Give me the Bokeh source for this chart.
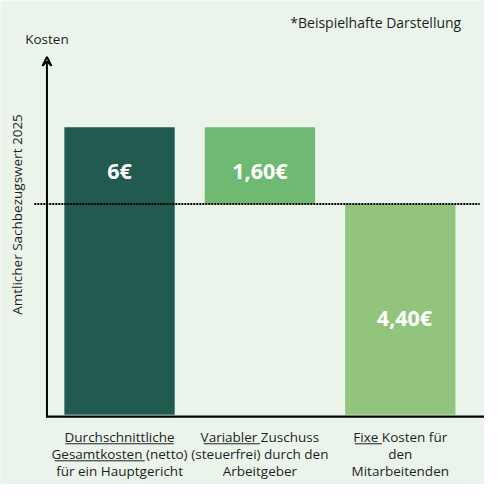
from math import pi

from bokeh.plotting import figure
from bokeh.models import Range1d, Arrow, VeeHead
from bokeh.core.properties import value
from bokeh.embed import file_html
from bokeh.resources import INLINE

# data
categories = ["Durchschnittliche Gesamtkosten", "Variabler Zuschuss", "Fixe Kosten"]
bar_bottom = [0, 4.40, 0]
bar_top = [6.00, 6.00, 4.40]
value_labels = ["6€", "1,60€", "4,40€"]
sachbezugswert = 4.40
cat_lines = [
    ["Durchschnittliche", "Gesamtkosten (netto)", "für ein Hauptgericht"],
    ["Variabler Zuschuss", "(steuerfrei) durch den", "Arbeitgeber"],
    ["Fixe Kosten für", "den", "Mitarbeitenden"],
]

colors = ["#215A4F", "#6FBA72", "#93C47D"]
bg = "#EAF4EB"
txt = "#1E1E1E"
font = "Open Sans"

# one x unit = 145 px, one y unit = 49.5 px (at 500 px scale)
p = figure(width=484, height=484, output_backend="svg", toolbar_location=None,
           x_range=Range1d(-0.848, 2.6), y_range=Range1d(-1.455, 8.646),
           min_border=0, background_fill_color=bg, border_fill_color=bg,
           outline_line_color=None)
p.axis.visible = False
p.grid.visible = False

xs = list(range(len(categories)))
p.vbar(x=xs, bottom=bar_bottom, top=bar_top, width=0.786, color=colors,
       line_color=None)

# value labels
label_y = [bar_top[0] - 0.9, bar_top[1] - 0.9, (bar_bottom[2] + bar_top[2]) / 2 - 0.16]
label_x = [0, 1, 2.03]
p.text(x=label_x, y=label_y, text=value_labels, text_color="white",
       text_font=value(font), text_font_size="21.5px", text_font_style="bold",
       text_align="center", text_baseline="middle")

# reference line (Sachbezugswert)
axis_x = -0.517
p.segment(x0=-0.607, x1=2.566, y0=sachbezugswert, y1=sachbezugswert,
          line_color="black", line_width=2, line_dash="2 1")

# axes
p.segment(x0=axis_x, x1=2.6, y0=-0.04, y1=-0.04, line_color="black", line_width=2.2)
p.add_layout(Arrow(end=VeeHead(size=9, line_color="black", line_width=2, fill_color=None),
                   x_start=axis_x, y_start=-0.06, x_end=axis_x, y_end=7.47,
                   line_color="black", line_width=2))

# category labels, one row per line
row_y = [-0.465, -0.82, -1.17]
for row in range(3):
    p.text(x=xs, y=[row_y[row]] * 3, text=[c[row] for c in cat_lines],
           text_font=value(font), text_font_size="13.5px", text_color=txt,
           text_align="center", text_baseline="middle")

# underlines (px offsets from bar centre, converted to x units)
ul = [(0, 0, -56, 56), (0, 1, -67, 26), (1, 0, -58, 0), (2, 0, -47, -19)]
for cat, row, a, b in ul:
    y_ul = row_y[row] - 0.14
    p.segment(x0=cat + a / 145, x1=cat + b / 145, y0=y_ul, y1=y_ul,
              line_color=txt, line_width=1)

# texts
p.text(x=[axis_x], y=[7.84], text=["Kosten"], text_font=value(font),
       text_font_size="13.5px", text_color=txt, text_align="center",
       text_baseline="middle")
p.text(x=[2.434], y=[8.18], text=["*Beispielhafte Darstellung"], text_font=value(font),
       text_font_size="14px", text_color=txt, text_align="right",
       text_baseline="middle")
p.text(x=[-0.731], y=[4.18], text=["Amtlicher Sachbezugswert 2025"], angle=pi / 2,
       text_font=value(font), text_font_size="13.5px", text_color=txt,
       text_align="center", text_baseline="middle")

open("out.html", "w").write(file_html(p, INLINE))
